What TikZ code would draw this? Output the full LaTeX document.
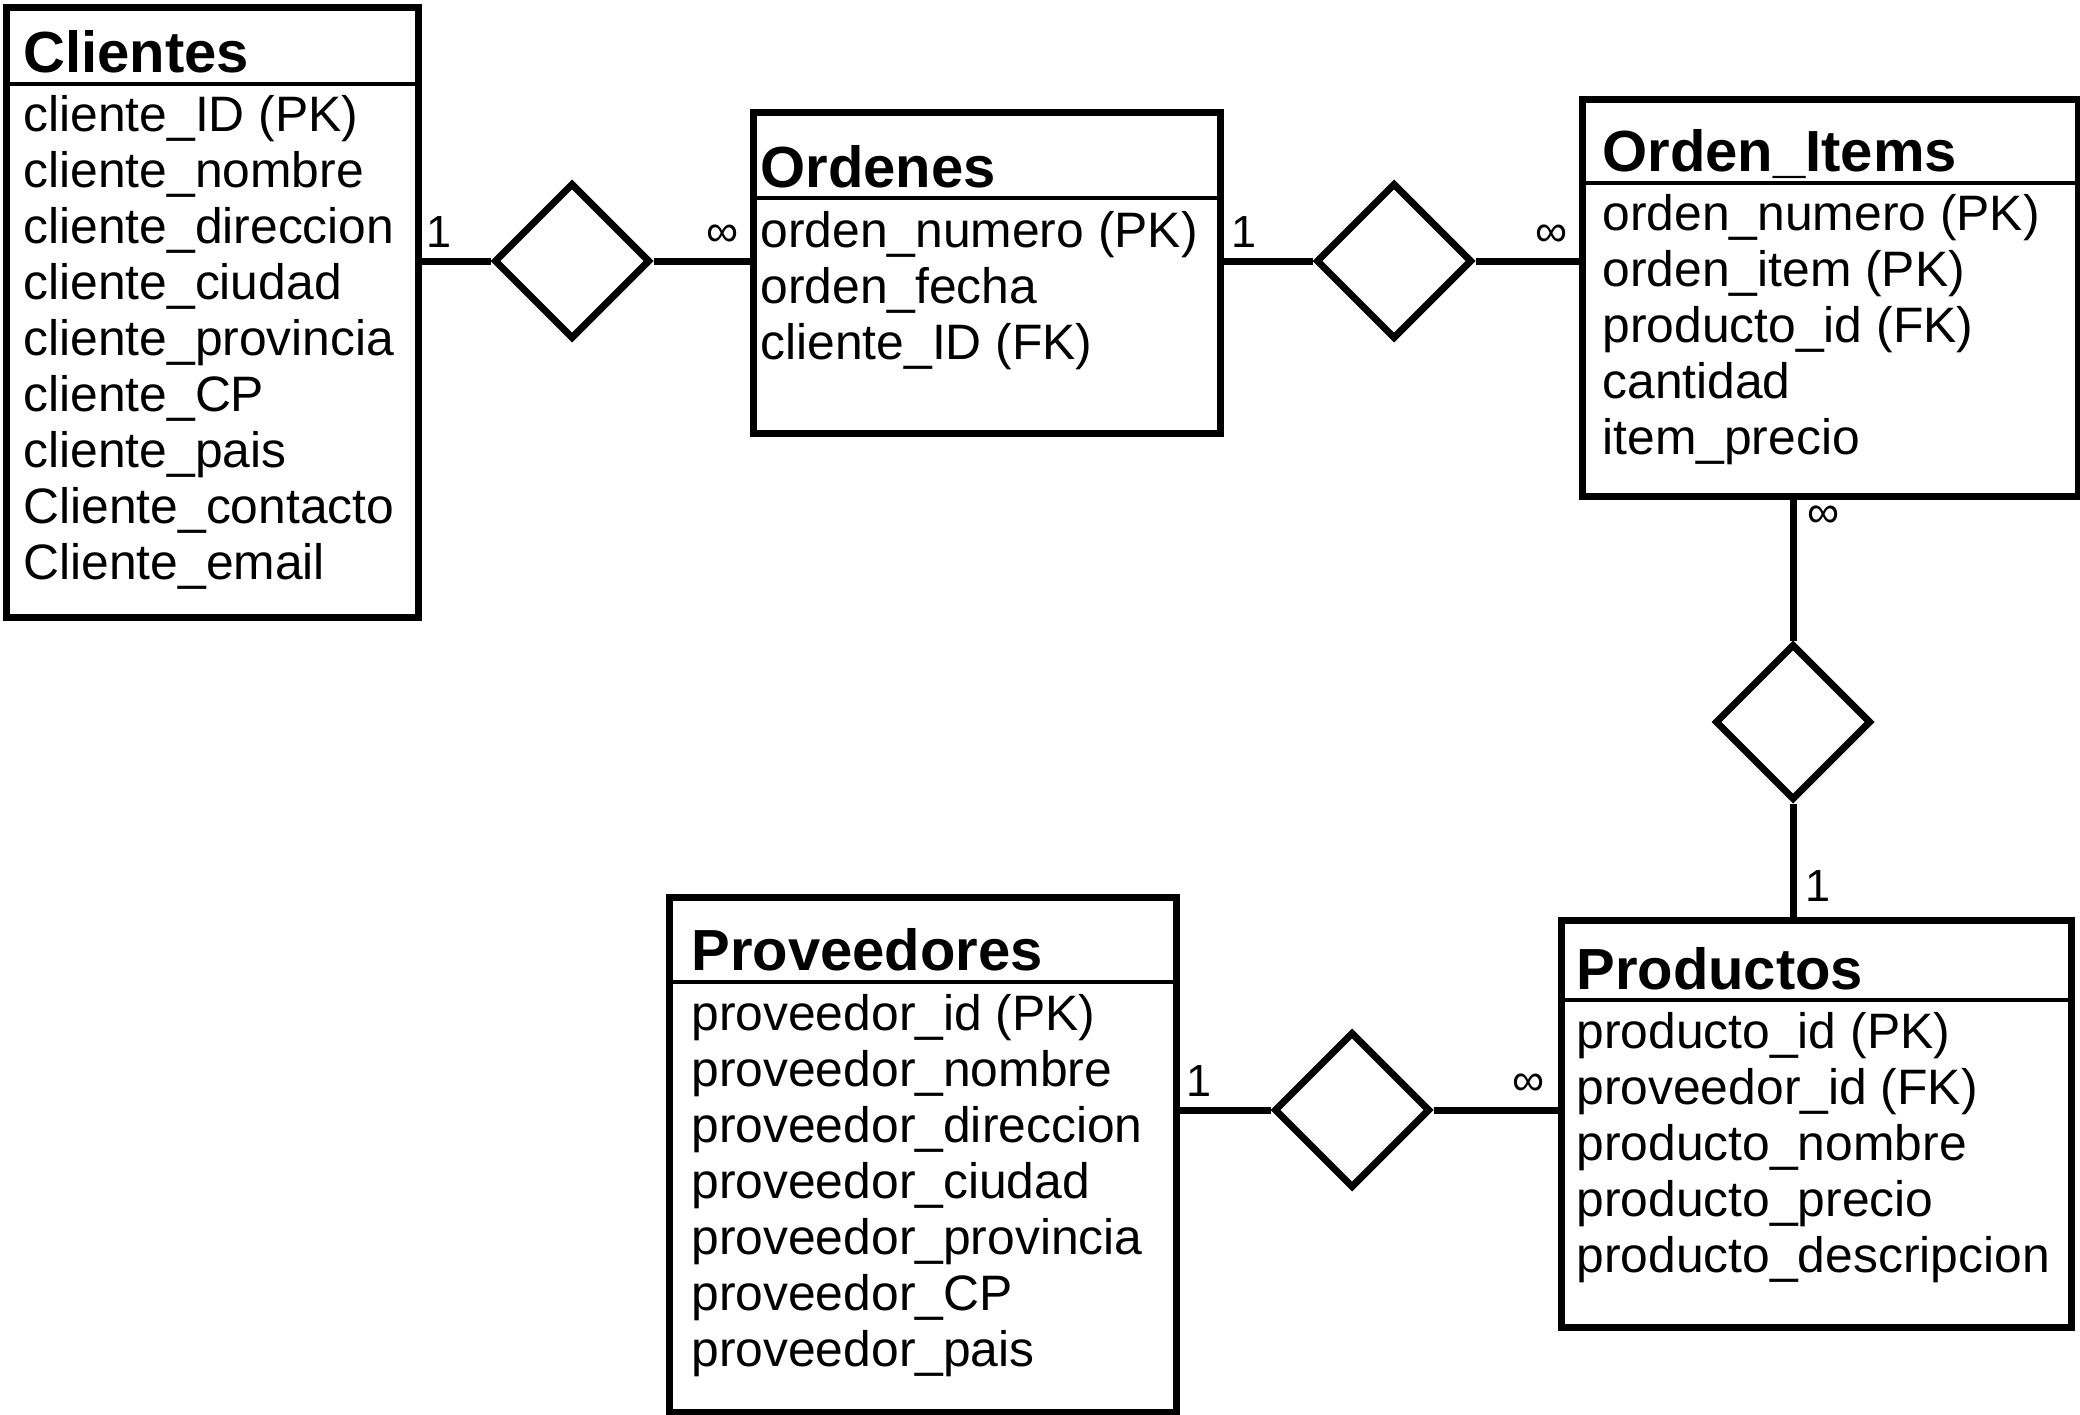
\documentclass[tikz,border=0pt]{standalone}
\usepackage{fontspec}
\setmainfont{Liberation Sans}
\usetikzlibrary{shapes.geometric}

\tikzset{
  tabla/.style={draw,line width=3.7pt,anchor=north west,inner sep=0pt},
  titulo/.style={anchor=base west,inner sep=0pt,font=\fontsize{29}{32}\selectfont\bfseries},
  campo/.style={anchor=base west,inner sep=0pt,font=\fontsize{24.9}{28}\selectfont},
  rombo/.style={draw,diamond,line width=3.5pt,minimum width=78pt,minimum height=78pt,inner sep=0pt},
  card/.style={inner sep=0pt,font=\fontsize{22.5}{25}\selectfont},
  linea/.style={line width=3.5pt},
  separa/.style={line width=1.8pt}
}

\begin{document}
\begin{tikzpicture}[x=0.5pt,y=-0.5pt]
	\useasboundingbox (0,0) rectangle (2080,1414);
	% tablas
	\node[tabla,minimum width=206pt,minimum height=305pt] (clientes) at (3,4) {};
	\node[tabla,minimum width=233.5pt,minimum height=160.5pt] (ordenes) at (750,109) {};
	\node[tabla,minimum width=248pt,minimum height=198.5pt] (items) at (1579,96) {};
	\node[tabla,minimum width=255pt,minimum height=203.5pt] (productos) at (1558,917) {};
	\node[tabla,minimum width=253.5pt,minimum height=257.5pt] (proveedores) at (666,894) {};
	% separadores
	\draw[separa] (clientes.west |- 0,84) -- (clientes.east |- 0,84);
	\draw[separa] (ordenes.west |- 0,198) -- (ordenes.east |- 0,198);
	\draw[separa] (items.west |- 0,183) -- (items.east |- 0,183);
	\draw[separa] (productos.west |- 0,1000) -- (productos.east |- 0,1000);
	\draw[separa] (proveedores.west |- 0,982) -- (proveedores.east |- 0,982);
	% titulos
	\node[titulo] (t-cli) at (23,72) {Clientes};
	\node[titulo] (t-ord) at (760,187) {Ordenes};
	\node[titulo] (t-ite) at (1602,171) {Orden\_Items};
	\node[titulo] (t-pro) at (1576,989) {Productos};
	\node[titulo] (t-prv) at (691,970) {Proveedores};
	% campos
	\foreach \txt [count=\i from 0] in {cliente\_ID (PK),cliente\_nombre,cliente\_direccion,cliente\_ciudad,cliente\_provincia,cliente\_CP,cliente\_pais,Cliente\_contacto,Cliente\_email}
		\node[campo] (cli-\i) at (23,131+56*\i) {\txt};
	\foreach \txt [count=\i from 0] in {orden\_numero (PK),orden\_fecha,cliente\_ID (FK)}
		\node[campo] (ord-\i) at (760,247+56*\i) {\txt};
	\foreach \txt [count=\i from 0] in {orden\_numero (PK),orden\_item (PK),producto\_id (FK),cantidad,item\_precio}
		\node[campo] (ite-\i) at (1602,230+56*\i) {\txt};
	\foreach \txt [count=\i from 0] in {producto\_id (PK),proveedor\_id (FK),producto\_nombre,producto\_precio,producto\_descripcion}
		\node[campo] (pro-\i) at (1576,1048+56*\i) {\txt};
	\foreach \txt [count=\i from 0] in {proveedor\_id (PK),proveedor\_nombre,proveedor\_direccion,proveedor\_ciudad,proveedor\_provincia,proveedor\_CP,proveedor\_pais}
		\node[campo] (prv-\i) at (691,1030+56*\i) {\txt};
	% relaciones
	\node[rombo] (d1) at (572,261) {};
	\node[rombo] (d2) at (1394,261) {};
	\node[rombo] (d3) at (1793,722) {};
	\node[rombo] (d4) at (1352,1110) {};
	\draw[linea] (clientes.east |- d1) -- (d1.west);
	\draw[linea] (d1.east) -- (ordenes.west |- d1);
	\draw[linea] (ordenes.east |- d2) -- (d2.west);
	\draw[linea] (d2.east) -- (items.west |- d2);
	\draw[linea] (items.south -| d3) -- (d3.north);
	\draw[linea] (d3.south) -- (productos.north -| d3);
	\draw[linea] (proveedores.east |- d4) -- (d4.west);
	\draw[linea] (d4.east) -- (productos.west |- d4);
	% cardinalidades
	\node[card] (c1) at (439,232) {1};
	\node[card] (c2) at (723,236) {∞};
	\node[card] (c3) at (1244,232) {1};
	\node[card] (c4) at (1552,236) {∞};
	\node[card] (c5) at (1824,517) {∞};
	\node[card] (c6) at (1818,886) {1};
	\node[card] (c7) at (1199,1081) {1};
	\node[card] (c8) at (1529,1085) {∞};
\end{tikzpicture}
\end{document}
